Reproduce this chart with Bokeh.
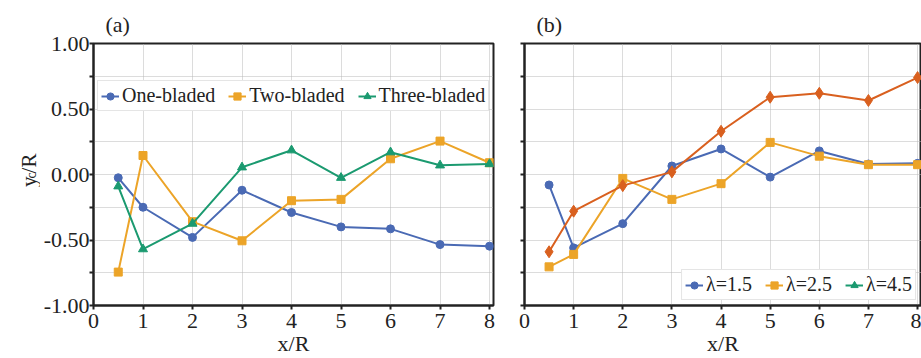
import math
from bokeh.plotting import figure
from bokeh.layouts import row
from bokeh.models import (Range1d, FixedTicker, Legend, LegendItem, Label,
                          ColumnDataSource)
from bokeh.embed import file_html
from bokeh.resources import INLINE

# ---------------- data ----------------
x_pos = [0.5, 1, 2, 3, 4, 5, 6, 7, 8]

one_bladed = [-0.025, -0.25, -0.48, -0.12, -0.29, -0.40, -0.415, -0.535, -0.547]
two_bladed = [-0.745, 0.145, -0.36, -0.506, -0.20, -0.19, 0.12, 0.255, 0.09]
three_bladed = [-0.09, -0.57, -0.375, 0.055, 0.185, -0.025, 0.17, 0.07, 0.08]

lam_15 = [-0.08, -0.56, -0.375, 0.065, 0.195, -0.02, 0.18, 0.08, 0.085]
lam_25 = [-0.705, -0.61, -0.03, -0.19, -0.07, 0.245, 0.14, 0.075, 0.075]
lam_45_x = [float("nan")]   # shown in legend only, no visible points
lam_45 = [float("nan")]
extra_series = [-0.59, -0.28, -0.085, 0.02, 0.33, 0.59, 0.62, 0.565, 0.74]

x_ticks = [0, 1, 2, 3, 4, 5, 6, 7, 8]
x_tick_labels = ["0", "1", "2", "3", "4", "5", "6", "7", "8"]
y_ticks = [-1.0, -0.75, -0.5, -0.25, 0.0, 0.25, 0.5, 0.75, 1.0]
y_tick_labels = ["-1.00", "", "-0.50", "", "0.00", "", "0.50", "", "1.00"]

BLUE = "#4A6AB4"
ORANGE = "#ECA428"
GREEN = "#1B9A70"
RED = "#D9601F"
INK = "#222222"

FONT = "Liberation Serif"
H = 358


def make_fig(width, min_left, min_right, title, show_ylabels):
    p = figure(width=width, height=H, output_backend="svg",
               toolbar_location=None, x_range=Range1d(0, 8.08),
               y_range=Range1d(-1, 1), min_border_left=min_left,
               min_border_right=min_right, min_border_top=43,
               min_border_bottom=53, background_fill_color="white",
               border_fill_color="white")
    p.title.text = title
    p.title.text_font = FONT
    p.title.text_font_size = "22px"
    p.title.text_font_style = "normal"
    p.title.text_color = INK
    p.title.offset = 12
    p.title.vertical_align = "top"
    p.title.text_line_height = 1.6
    p.outline_line_color = INK
    p.outline_line_width = 2
    p.outline_line_alpha = 1

    for ax in (p.xaxis[0], p.yaxis[0]):
        ax.axis_line_width = 2
        ax.axis_line_color = INK
        ax.major_tick_line_width = 2
        ax.major_tick_line_color = INK
        ax.major_tick_in = 0
        ax.minor_tick_line_color = None
        ax.major_label_text_font = FONT
        ax.major_label_text_font_size = "22px"
        ax.major_label_text_color = INK
        ax.axis_label_text_font = FONT
        ax.axis_label_text_font_size = "22px"
        ax.axis_label_text_font_style = "normal"
        ax.axis_label_text_color = INK

    p.xaxis.ticker = FixedTicker(ticks=x_ticks)
    p.xaxis.major_label_overrides = {t: l for t, l in zip(x_ticks, x_tick_labels)}
    p.xaxis.major_tick_out = 4
    p.xaxis.major_label_standoff = 4
    p.xaxis.axis_label = "x/R"
    p.xaxis.axis_label_standoff = 0

    p.yaxis.ticker = FixedTicker(ticks=y_ticks)
    if show_ylabels:
        p.yaxis.major_label_overrides = {t: l for t, l in zip(y_ticks, y_tick_labels)}
    else:
        p.yaxis.major_label_overrides = {t: "" for t in y_ticks}
    p.yaxis.major_tick_out = 4
    p.yaxis.major_label_standoff = 0

    p.xgrid.ticker = FixedTicker(ticks=x_ticks)
    p.ygrid.ticker = FixedTicker(ticks=y_ticks)
    for g in (p.xgrid[0], p.ygrid[0]):
        g.grid_line_color = "#b8b8b8"
        g.grid_line_dash = "1 1"
        g.grid_line_width = 1
    return p


def series(p, xs, ys, color, marker, size):
    src = ColumnDataSource(dict(x=xs, y=ys))
    r1 = p.line("x", "y", source=src, line_color=color, line_width=2)
    r2 = p.scatter("x", "y", source=src, marker=marker, size=size,
                   fill_color=color, line_color=color)
    return [r1, r2]


def make_legend(items, **kw):
    lg = Legend(items=items, orientation="horizontal",
                label_text_font=FONT, label_text_font_size="20px",
                label_text_color=INK,
                glyph_width=18, glyph_height=20, label_height=20,
                label_standoff=3, spacing=13, padding=3, margin=0,
                border_line_color="#cccccc", border_line_width=1.5,
                background_fill_color="white", background_fill_alpha=1,
                **kw)
    return lg


# ---------------- y-axis title strip: y_c/R (subscript c) ----------------
YW = 40
py = figure(width=YW, height=H, output_backend="svg", toolbar_location=None,
            x_range=Range1d(0, YW), y_range=Range1d(H, 0),
            min_border_left=0, min_border_right=0, min_border_top=0,
            min_border_bottom=0, outline_line_color=None,
            background_fill_color="white", border_fill_color="white")
py.axis.visible = False
py.grid.visible = False
common = dict(angle=math.pi / 2, text_font=FONT, text_color=INK,
              text_align="left", text_baseline="alphabetic")
py.add_layout(Label(x=28, y=196, text="y", text_font_size="21px", **common))
py.add_layout(Label(x=31, y=184.5, text="c", text_font_size="14px", **common))
py.add_layout(Label(x=28, y=177.5, text="/R", text_font_size="21px", **common))

# ---------------- panel (a) ----------------
pa = make_fig(500 - YW, 93 - YW, 7, "(a)", True)
ra1 = series(pa, x_pos, one_bladed, BLUE, "circle", 8)
ra2 = series(pa, x_pos, two_bladed, ORANGE, "square", 8)
ra3 = series(pa, x_pos, three_bladed, GREEN, "triangle", 9)
leg_a = make_legend([LegendItem(label="One-bladed", renderers=ra1),
                     LegendItem(label="Two-bladed", renderers=ra2),
                     LegendItem(label="Three-bladed", renderers=ra3)],
                    location=(4, 194))
pa.add_layout(leg_a, "center")

# ---------------- panel (b) ----------------
pb = make_fig(421, 24, 0, "(b)", False)
rb1 = series(pb, x_pos, lam_15, BLUE, "circle", 8)
rb2 = series(pb, x_pos, lam_25, ORANGE, "square", 8)
rb3 = series(pb, lam_45_x, lam_45, GREEN, "triangle", 9)
series(pb, x_pos, extra_series, RED, "diamond", 12)
leg_b = make_legend([LegendItem(label="λ=1.5", renderers=rb1),
                     LegendItem(label="λ=2.5", renderers=rb2),
                     LegendItem(label="λ=4.5", renderers=rb3)],
                    location="bottom_right")
leg_b.margin = 5
pb.add_layout(leg_b, "center")

layout = row(py, pa, pb)
open("out.html", "w").write(file_html(layout, INLINE))
